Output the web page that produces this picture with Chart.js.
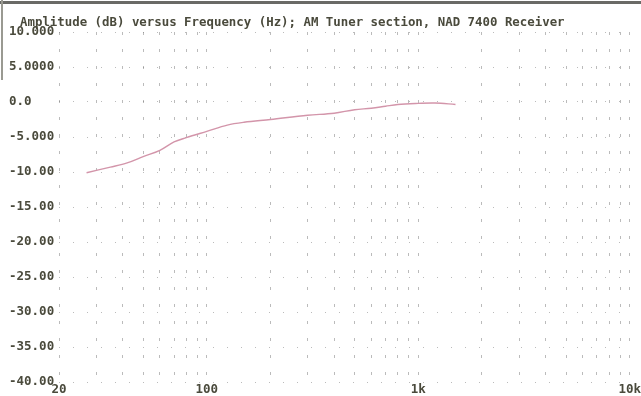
<!DOCTYPE html>
<html>
<head>
<meta charset="utf-8">
<script src="https://cdn.jsdelivr.net/npm/chart.js@4"></script>
<style>
  html, body { margin: 0; padding: 0; background: #fff; }
  #wrap { position: relative; width: 641px; height: 396px; }
  /* the scanned page edge: dark line on top, grey stub on the left */
  #wrap:before { content: ''; position: absolute; left: 0; top: 1px; width: 641px; height: 3px; background: #6a6a66; }
  #wrap:after { content: ''; position: absolute; left: 1px; top: 0; width: 2px; height: 80px; background: #9a9a92; }
</style>
</head>
<body>
<div id="wrap"><canvas id="chart" width="641" height="396"></canvas></div>
<script>
// --- data ---
const titleText = 'Amplitude (dB) versus Frequency (Hz); AM Tuner section, NAD 7400 Receiver';

const freqs = [27, 35, 42, 50, 60, 70, 80, 100, 125, 150, 200, 300, 400, 500, 600, 700, 800, 1000, 1200, 1500];
const amplitude = [-10.1, -9.3, -8.7, -7.8, -6.9, -5.7, -5.1, -4.2, -3.3, -2.9, -2.5, -1.9, -1.6, -1.1, -0.9, -0.6, -0.35, -0.2, -0.15, -0.35];

// gridlines sit on every 1-2-3..9 step of the decade
const xGridValues = [20, 30, 40, 50, 60, 70, 80, 90, 100, 200, 300, 400, 500, 600, 700, 800, 900,
                     1000, 2000, 3000, 4000, 5000, 6000, 7000, 8000, 9000, 10000];
const xTickValues = [20, 100, 1000, 10000];
const xTickLabels = ['20', '100', '1k', '10k'];

const yTickValues = [10, 5, 0, -5, -10, -15, -20, -25, -30, -35, -40];
const yTickLabels = ['10.000', '5.0000', '0.0', '-5.000', '-10.00', '-15.00', '-20.00', '-25.00', '-30.00', '-35.00', '-40.00'];

const inkColor = '#4a4a3c';
const gridColor = 'rgba(120,120,120,0.5)';
const monoFont = { family: 'DejaVu Sans Mono', size: 12.5, weight: 'bold' };

// title drawn by hand so it can start where the scan has it
const titlePlugin = {
    id: 'scanTitle',
    afterDraw(chart) {
        const ctx = chart.ctx;
        ctx.save();
        ctx.fillStyle = inkColor;
        ctx.font = 'bold 12.4px "DejaVu Sans Mono"';
        ctx.fillText(titleText, 20, 26);
        ctx.restore();
    }
};

new Chart(document.getElementById('chart'), {
    type: 'line',
    data: {
        datasets: [{
            data: freqs.map((f, i) => ({ x: f, y: amplitude[i] })),
            borderColor: '#d395aa',
            borderWidth: 1.4,
            pointRadius: 0,
            tension: 0.35,
            fill: false
        }]
    },
    options: {
        responsive: false,
        animation: false,
        layout: { padding: { top: 32, right: 10, left: 9, bottom: 0 } },
        plugins: {
            legend: { display: false },
            tooltip: { enabled: false }
        },
        scales: {
            x: {
                type: 'logarithmic',
                min: 20,
                max: 10000,
                afterBuildTicks: (axis) => { axis.ticks = xGridValues.map(v => ({ value: v })); },
                afterFit: (axis) => { axis.height = 14; },
                border: { display: false, dash: [3, 14] },
                grid: { color: gridColor, drawTicks: false },
                ticks: {
                    autoSkip: false,
                    maxRotation: 0,
                    padding: 0,
                    color: inkColor,
                    font: monoFont,
                    callback: (v) => {
                        const i = xTickValues.indexOf(v);
                        return i >= 0 ? xTickLabels[i] : '';
                    }
                }
            },
            y: {
                min: -40,
                max: 10,
                afterBuildTicks: (axis) => { axis.ticks = yTickValues.map(v => ({ value: v })); },
                afterFit: (axis) => { axis.width = 50; },
                border: { display: false, dash: [1, 13] },
                grid: { color: gridColor, drawTicks: false },
                ticks: {
                    crossAlign: 'far',
                    padding: 0,
                    color: inkColor,
                    font: monoFont,
                    callback: (v) => {
                        const i = yTickValues.indexOf(v);
                        return i >= 0 ? yTickLabels[i] : '';
                    }
                }
            }
        }
    },
    plugins: [titlePlugin]
});
</script>
</body>
</html>
